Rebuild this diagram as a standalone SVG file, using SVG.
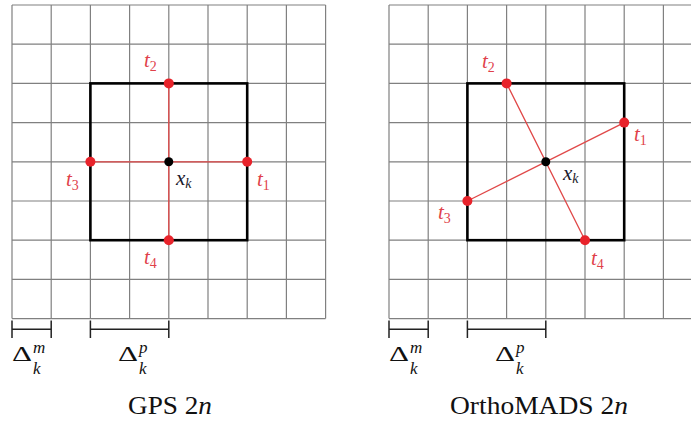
<svg xmlns="http://www.w3.org/2000/svg" width="691" height="423" viewBox="0 0 691 423" font-family="'Liberation Serif', 'DejaVu Serif', serif">
<defs>
<style>
text{font-family:'Liberation Serif','DejaVu Serif',serif}
.grid{stroke:#808080;stroke-width:1.2;fill:none}
.box{stroke:#000;stroke-width:2.6;fill:none}
.ray{stroke:#e04848;stroke-width:1.3;fill:none}
.pt{fill:#e8232b}
.ctr{fill:#000}
.br{stroke:#222;stroke-width:1.5;fill:none}
.lbl{font-style:italic;font-size:21px;fill:#e0404a}
.sub{font-size:14px;font-style:normal}
.subi{font-size:14px}
.xk{font-style:italic;font-size:21px;fill:#1a1a2a}
.sm{font-style:italic;font-size:17px;fill:#111}
.dl{font-size:22px;fill:#111}
.cap{font-size:25px;fill:#111}
</style>
</defs>
<rect width="691" height="423" fill="#fff"/>

<g id="gps-panel">
<g id="gps-grid" class="grid">
<path d="M12 5V318.6M51.2 5V318.6M90.4 5V318.6M129.6 5V318.6M168.8 5V318.6M208 5V318.6M247.2 5V318.6M286.4 5V318.6M325.6 5V318.6"/>
<path d="M12 5H325.6M12 44.2H325.6M12 83.4H325.6M12 122.6H325.6M12 161.8H325.6M12 201H325.6M12 240.2H325.6M12 279.4H325.6M12 318.6H325.6"/>
</g>
<g id="gps-box"><rect class="box" x="90.4" y="83.4" width="156.8" height="156.8"/></g>
<g id="gps-connectors">
<path class="ray" d="M90.4 161.8H247.2M168.8 83.4V240.2"/>
</g>
<g id="gps-t1"><circle class="pt" cx="247.2" cy="161.8" r="5"/><text class="lbl" x="257" y="186">t<tspan class="sub" dy="4">1</tspan></text></g>
<g id="gps-t2"><circle class="pt" cx="168.8" cy="83.4" r="5"/><text class="lbl" x="144" y="67">t<tspan class="sub" dy="4">2</tspan></text></g>
<g id="gps-t3"><circle class="pt" cx="90.4" cy="161.8" r="5"/><text class="lbl" x="66" y="186">t<tspan class="sub" dy="4">3</tspan></text></g>
<g id="gps-t4"><circle class="pt" cx="168.8" cy="240.2" r="5"/><text class="lbl" x="144" y="264">t<tspan class="sub" dy="4">4</tspan></text></g>
<g id="gps-xk"><circle class="ctr" cx="168.8" cy="161.8" r="4.5"/><text class="xk" x="176" y="185">x<tspan class="subi" dy="3">k</tspan></text></g>
<g id="gps-dm"><path class="br" d="M12 320.5V338M12 329.2H51.2M51.2 320.5V338"/>
<text class="dl" x="12" y="361" textLength="20" lengthAdjust="spacingAndGlyphs">Δ</text><text class="sm" x="33" y="353">m</text><text class="sm" x="33" y="374">k</text></g>
<g id="gps-dp"><path class="br" d="M90.4 320.5V338M90.4 329.2H168.8M168.8 320.5V338"/>
<text class="dl" x="118" y="361" textLength="20" lengthAdjust="spacingAndGlyphs">Δ</text><text class="sm" x="139" y="353">p</text><text class="sm" x="139" y="374">k</text></g>
<text id="gps-caption" class="cap" x="128" y="414" textLength="84" lengthAdjust="spacingAndGlyphs">GPS 2<tspan font-style="italic">n</tspan></text>
</g>

<g id="ortho-panel">
<g id="ortho-grid" class="grid">
<path d="M389 5V318.6M428.2 5V318.6M467.4 5V318.6M506.6 5V318.6M545.8 5V318.6M585 5V318.6M624.2 5V318.6M663.4 5V318.6M702.6 5V318.6"/>
<path d="M389 5H702.6M389 44.2H702.6M389 83.4H702.6M389 122.6H702.6M389 161.8H702.6M389 201H702.6M389 240.2H702.6M389 279.4H702.6M389 318.6H702.6"/>
</g>
<g id="ortho-box"><rect class="box" x="467.4" y="83.4" width="156.8" height="156.8"/></g>
<g id="ortho-connectors">
<path class="ray" d="M467.4 201L624.2 122.6M506.6 83.4L585 240.2"/>
</g>
<g id="ortho-t1"><circle class="pt" cx="624.2" cy="122.6" r="5"/><text class="lbl" x="634" y="141">t<tspan class="sub" dy="4">1</tspan></text></g>
<g id="ortho-t2"><circle class="pt" cx="506.6" cy="83.4" r="5"/><text class="lbl" x="482" y="68">t<tspan class="sub" dy="4">2</tspan></text></g>
<g id="ortho-t3"><circle class="pt" cx="467.4" cy="201" r="5"/><text class="lbl" x="438" y="219">t<tspan class="sub" dy="4">3</tspan></text></g>
<g id="ortho-t4"><circle class="pt" cx="585" cy="240.2" r="5"/><text class="lbl" x="591" y="265">t<tspan class="sub" dy="4">4</tspan></text></g>
<g id="ortho-xk"><circle class="ctr" cx="545.8" cy="161.8" r="4.5"/><text class="xk" x="563" y="180">x<tspan class="subi" dy="3">k</tspan></text></g>
<g id="ortho-dm"><path class="br" d="M389 320.5V338M389 329.2H428.2M428.2 320.5V338"/>
<text class="dl" x="389" y="361" textLength="20" lengthAdjust="spacingAndGlyphs">Δ</text><text class="sm" x="410" y="353">m</text><text class="sm" x="410" y="374">k</text></g>
<g id="ortho-dp"><path class="br" d="M467.4 320.5V338M467.4 329.2H545.8M545.8 320.5V338"/>
<text class="dl" x="495" y="361" textLength="20" lengthAdjust="spacingAndGlyphs">Δ</text><text class="sm" x="516" y="353">p</text><text class="sm" x="516" y="374">k</text></g>
<text id="ortho-caption" class="cap" x="450" y="414" textLength="178" lengthAdjust="spacingAndGlyphs">OrthoMADS 2<tspan font-style="italic">n</tspan></text>
</g>
</svg>
